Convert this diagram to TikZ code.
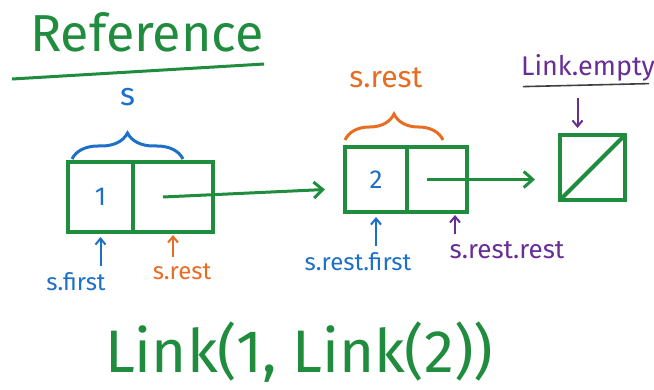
\documentclass[tikz,border=0pt]{standalone}
\usepackage{fontspec}
\setmainfont{Fira Sans}
\usetikzlibrary{arrows.meta,positioning,decorations.pathreplacing}
\definecolor{penGreen}{RGB}{32,140,62}
\definecolor{penBlue}{RGB}{28,112,200}
\definecolor{penOrange}{RGB}{232,108,34}
\definecolor{penPurple}{RGB}{104,46,150}

\begin{document}
\begin{tikzpicture}[x=1pt, y=-1pt,
  every node/.style={align=center, inner sep=0pt},
  cell/.style={draw=penGreen, line width=3.4pt, outer sep=0pt, minimum height=#1},
  cell/.default=70pt,
  link/.style={penGreen, line width=3pt, -{Straight Barb[length=9pt,width=16pt]}},
  ptr/.style={line width=2pt, -{Straight Barb[length=6pt,width=10pt]}},
  brace/.style={decorate, decoration={brace, amplitude=26pt}, line width=3pt},
  big/.style={text=penGreen, font=\fontsize{52}{56}\selectfont},
  lbl/.style={font=\fontsize{24}{26}\selectfont},
  digit/.style={font=\fontsize{26}{28}\selectfont, text=penBlue}
]
\useasboundingbox (0,0) rectangle (654,390);

%% Title
\node[big] (ref) at (147,32) {Reference};
\draw[penGreen, line width=3pt] ([xshift=-18pt,yshift=-27pt]ref.south west)
      -- ([xshift=0pt,yshift=-12pt]ref.south east);

%% First link
\node[cell, minimum width=65pt] (f1) at (100.5,197) {};
\node[digit] (one) at (f1.center) {1};
\node[cell, minimum width=80pt, right=0pt of f1] (r1) {};

%% Second link
\node[cell=65pt, minimum width=62pt] (f2) at (376,179.5) {};
\node[digit] (two) at (f2.center) {2};
\node[cell=65pt, minimum width=60pt, right=0pt of f2] (r2) {};

%% Empty link
\node[cell=65pt, minimum width=65pt] (nil) at (592.5,167.5) {};
\draw[penGreen, line width=4pt] (nil.south west) -- (nil.north east);

%% Rest pointers
\draw[link] ([xshift=-10pt]r1.center) -- ([xshift=-20pt,yshift=-10pt]f2.west);
\draw[link] ([xshift=-10pt]r2.center) -- ([xshift=-25pt,yshift=-12pt]nil.west);

%% Braces
\draw[brace, penBlue] ([xshift=4pt,yshift=3pt]f1.north west)
      -- node[yshift=62pt, font=\fontsize{32}{34}\selectfont, text=penBlue] (s) {s}
      ([xshift=-30pt,yshift=3pt]r1.north east);
\draw[brace, penOrange] ([yshift=7pt]f2.north west)
      -- node[yshift=62pt, xshift=-8pt, font=\fontsize{30}{32}\selectfont, text=penOrange] (srestTop) {s.rest}
      ([xshift=-24pt,yshift=7pt]r2.north east);

%% Labels below
\node[lbl, text=penBlue]   (sfirst)     at (76,282)  {s.first};
\node[lbl, text=penOrange] (srest)      at (182,272) {s.rest};
\node[lbl, text=penBlue]   (srestfirst) at (358,262) {s.rest.first};
\node[lbl, text=penPurple, font=\fontsize{26}{28}\selectfont] (srestrest) at (507,250) {s.rest.rest};

\draw[ptr, penBlue, shorten <=7pt, shorten >=5pt] (sfirst.north -| f1.south) -- (f1.south);
\draw[ptr, penOrange, shorten <=7pt, shorten >=3pt] (srest.north -| r1.south) -- (r1.south);
\draw[ptr, penBlue, shorten <=7pt, shorten >=5pt] (srestfirst.north -| f2.south) -- (f2.south);
\draw[ptr, penPurple, shorten <=7pt, shorten >=3pt] ([xshift=18pt]srestrest.north -| r2.south) -- ([xshift=18pt]r2.south);

%% Empty marker
\node[font=\fontsize{27}{29}\selectfont, text=penPurple] (lempty) at (588,68) {Link.empty};
\draw[black!75, line width=1.6pt] ([xshift=2pt,yshift=-5pt]lempty.south west) -- ([xshift=-6pt,yshift=-2pt]lempty.south east);
\draw[ptr, penPurple, shorten <=16pt, shorten >=7pt] ([xshift=-15pt]lempty.south -| nil.north) -- ([xshift=-15pt]nil.north);

%% Expression
\node[big, font=\fontsize{60}{64}\selectfont] (expr) at (299,352) {Link(1, Link(2))};

\end{tikzpicture}
\end{document}
